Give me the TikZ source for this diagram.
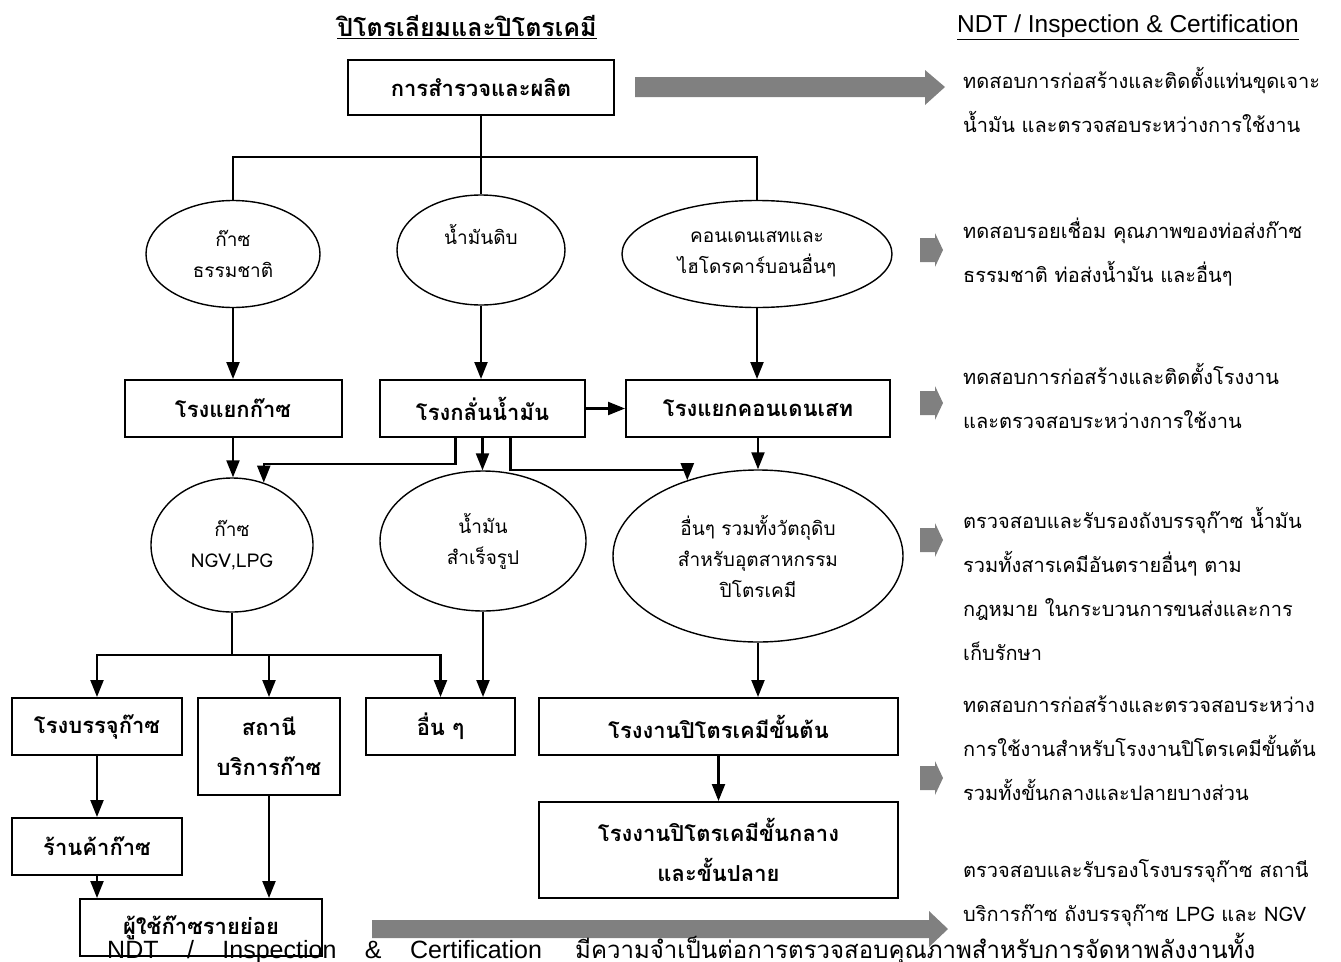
\documentclass[tikz,border=0pt]{standalone}
\usepackage{fontspec}
\setmainfont{Loma}[Script=Thai]
\newfontfamily\latinfont{Liberation Sans}
\usetikzlibrary{arrows.meta,shapes.geometric}

\begin{document}
\begin{tikzpicture}[x=1pt, y=-1pt,
    plant/.style ={rectangle, draw, line width=2pt, inner sep=0pt, align=center, font=\fontsize{22}{40}\selectfont\bfseries},
    product/.style ={ellipse, draw, line width=1.4pt, inner sep=0pt, align=center, font=\fontsize{19}{31}\selectfont},
    flow/.style ={line width=2.2pt, -{Triangle[width=13pt,length=17pt]}},
    branch/.style ={line width=1.8pt},
    signal/.style ={fill=black!50},
    note/.style ={anchor=north west, inner sep=0pt, align=left, font=\fontsize{20}{44}\selectfont}]
   \useasboundingbox (0,0) rectangle (1341,961);

   \node[font=\fontsize{25}{28}\selectfont\bfseries] (title) at (467,27) {\underline{ปิโตรเลียมและปิโตรเคมี}};
   \node[font=\latinfont\fontsize{24.5}{28}\selectfont] (ndt) at (1128,27) {\underline{NDT / Inspection \& Certification}};

   \node[plant, minimum width=266, minimum height=55] (explore) at (481,87.5) {การสำรวจและผลิต};

   \node[product, minimum width=174, minimum height=107] (gasN) at (233,254) {ก๊าซ\\ธรรมชาติ};
   \node[product, minimum width=168, minimum height=110] (crude) at (481,250) {น้ำมันดิบ\\\mbox{}};
   \node[product, minimum width=270, minimum height=107] (cond) at (757,254) {คอนเดนเสทและ\\ไฮโดรคาร์บอนอื่นๆ};

   \node[plant, minimum width=217, minimum height=57] (gasSep) at (233,408.5) {โรงแยกก๊าซ};
   \node[plant, minimum width=205, minimum height=57] (refin) at (482.5,408.5) {โรงกลั่นน้ำมัน};
   \node[plant, minimum width=264, minimum height=57] (condSep) at (758,408.5) {โรงแยกคอนเดนเสท};

   \node[product, minimum width=162, minimum height=134] (gasE) at (232,545) {ก๊าซ\\NGV,LPG};
   \node[product, minimum width=206, minimum height=140] (oilE) at (483,541) {น้ำมัน\\สำเร็จรูป};
   \node[product, minimum width=290, minimum height=172] (otherE) at (758,556) {อื่นๆ รวมทั้งวัตถุดิบ\\สำหรับอุตสาหกรรม\\ปิโตรเคมี};

   \node[plant, minimum width=170, minimum height=57] (bottling) at (97,726.5) {โรงบรรจุก๊าซ};
   \node[plant, minimum width=142, minimum height=97] (station) at (269,746.5) {สถานี\\บริการก๊าซ};
   \node[plant, minimum width=149, minimum height=57] (others) at (440.5,726.5) {อื่น ๆ};
   \node[plant, minimum width=359, minimum height=57] (primary) at (718.5,726.5) {โรงงานปิโตรเคมีขั้นต้น};

   \node[plant, minimum width=170, minimum height=57] (shop) at (97,846.5) {ร้านค้าก๊าซ};
   \node[plant, minimum width=359, minimum height=96] (midlate) at (718.5,850) {โรงงานปิโตรเคมีขั้นกลาง\\และขั้นปลาย};
   \node[plant, minimum width=242, minimum height=57] (retail) at (201,927.5) {ผู้ใช้ก๊าซรายย่อย};

   % tree from exploration
   \coordinate (fork) at (481,157);
   \draw[branch] (explore.south) -- (crude.north);
   \draw[branch] (fork) -| (gasN.north);
   \draw[branch] (fork) -| (cond.north);

   \draw[flow] (gasN.south) -- (gasSep.north);
   \draw[flow] (crude.south) -- (crude.south |- refin.north);
   \draw[flow] (cond.south) -- (cond.south |- condSep.north);
   \draw[flow] (refin.east) -- (condSep.west);

   \draw[flow] (gasSep.south) -- (gasSep.south |- gasE.north);
   \draw[flow] ([xshift=-27pt]refin.south) -- ++(0,26) -| (gasE.63);
   \draw[flow] (refin.south) -- (refin.south |- oilE.north);
   \draw[flow] ([xshift=28pt]refin.south) -- ++(0,32) -| (otherE.133);
   \draw[flow] (condSep.south) -- (otherE.north);

   % gas distribution
   \coordinate (fork2) at (232,655);
   \draw[branch] (gasE.south) -- (fork2);
   \draw[flow] (fork2) -| (bottling.north);
   \draw[flow] (fork2) -| (station.north);
   \draw[flow] (fork2) -| (others.north);
   \draw[flow] (oilE.south) -- (oilE.south |- others.north);
   \draw[flow] (otherE.south) -- (otherE.south |- primary.north);
   \draw[flow] (primary.south) -- (midlate.north);
   \draw[flow] (bottling.south) -- (shop.north);
   \draw[flow] (shop.south) -- (shop.south |- retail.north);
   \draw[flow] (station.south) -- (station.south |- retail.north);

   % grey pointers
   \fill[signal] (635,77) -- (925,77) -- (925,70) -- (945,87) -- (925,105) -- (925,97) -- (635,97) -- cycle;
   \foreach \y in {250,403,540,778}
     \fill[signal] (920,\y) ++(0,-12) -- ++(15,0) -- ++(0,-5) -- ++(8,17) -- ++(-8,17) -- ++(0,-5) -- ++(-15,0) -- cycle;
   \fill[signal] (372,920) -- (929,920) -- (929,911) -- (948,929) -- (929,947) -- (929,938) -- (372,938) -- cycle;

   \node[note] (n1) at (963,67) {ทดสอบการก่อสร้างและติดตั้งแท่นขุดเจาะ\\น้ำมัน และตรวจสอบระหว่างการใช้งาน};
   \node[note] (n2) at (963,218) {ทดสอบรอยเชื่อม คุณภาพของท่อส่งก๊าซ\\ธรรมชาติ ท่อส่งน้ำมัน และอื่นๆ};
   \node[note] (n3) at (963,363) {ทดสอบการก่อสร้างและติดตั้งโรงงาน\\และตรวจสอบระหว่างการใช้งาน};
   \node[note] (n4) at (963,507) {ตรวจสอบและรับรองถังบรรจุก๊าซ น้ำมัน\\รวมทั้งสารเคมีอันตรายอื่นๆ ตาม\\กฎหมาย ในกระบวนการขนส่งและการ\\เก็บรักษา};
   \node[note] (n5) at (963,696) {ทดสอบการก่อสร้างและตรวจสอบระหว่าง\\การใช้งานสำหรับโรงงานปิโตรเคมีขั้นต้น\\รวมทั้งขั้นกลางและปลายบางส่วน};
   \node[note] (n6) at (963,859) {ตรวจสอบและรับรองโรงบรรจุก๊าซ สถานี\\บริการก๊าซ ถังบรรจุก๊าซ LPG และ NGV};

   \node[anchor=base west, inner sep=0pt, font=\fontsize{24}{30}\selectfont] (summary) at (107,958)
     {\makebox[1148pt][s]{{\latinfont\fontsize{25}{30}\selectfont NDT / Inspection \& Certification} มีความจำเป็นต่อการตรวจสอบคุณภาพสำหรับการจัดหาพลังงานทั้ง}};
 \end{tikzpicture}
\end{document}
